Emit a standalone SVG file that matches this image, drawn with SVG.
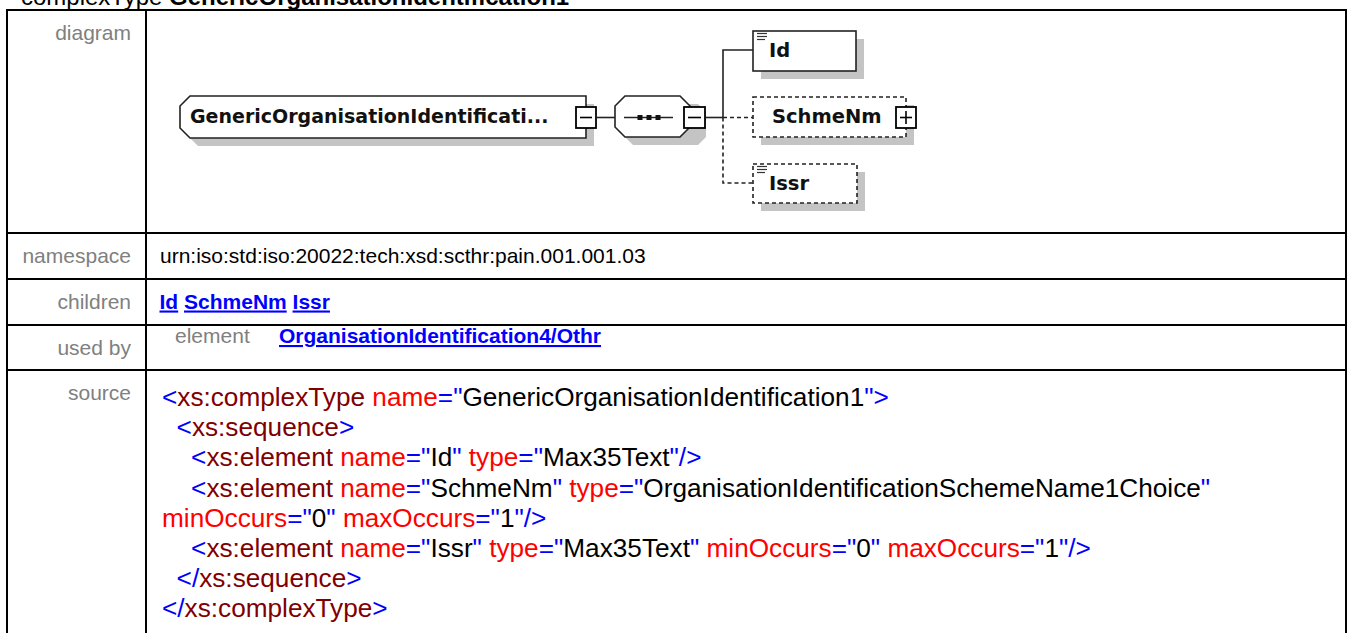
<svg xmlns="http://www.w3.org/2000/svg" width="1348" height="633" viewBox="0 0 1348 633">
<defs>
<style>
.lbl{font-family:"Liberation Sans",Arial,sans-serif;font-size:21px;fill:#808080;text-anchor:end}
.val{font-family:"Liberation Sans",Arial,sans-serif;font-size:21px;fill:#000}
.lnk{font-weight:bold;fill:#0000ff;text-decoration:underline}
.src{font-family:"Liberation Sans",Arial,sans-serif;font-size:26.2px;fill:#000}
.b{fill:#0000ff}.m{fill:#800000}.r{fill:#ff0000}
.grid{stroke:#000;stroke-width:2;fill:none}
.nt{font-family:"DejaVu Sans",Verdana,sans-serif;font-weight:bold;font-size:19.5px;fill:#111}
.box{fill:#fff;stroke:#222;stroke-width:1.6}
.dbox{fill:#fff;stroke:#222;stroke-width:1.6;stroke-dasharray:4 3}
.shd{fill:#c4c4c4}
.ln{stroke:#222;stroke-width:1.6;fill:none}
.dl{stroke:#222;stroke-width:1.6;fill:none;stroke-dasharray:4 3}
.ic{stroke:#333;stroke-width:1.2}
.pm{fill:#fff;stroke:#000;stroke-width:1.8}
.pl{stroke:#000;stroke-width:1.6}
</style>
</defs>
<rect x="0" y="0" width="1348" height="633" fill="#fff"/>
<text x="21" y="5" font-family="Liberation Sans, Arial, sans-serif" font-size="24" fill="#000">complexType <tspan font-weight="bold">GenericOrganisationIdentification1</tspan></text>

<g id="table">
<rect class="grid" x="7" y="10" width="1339" height="640"/>
<line class="grid" x1="146" y1="10" x2="146" y2="640"/>
<line class="grid" x1="7" y1="233" x2="1346" y2="233"/>
<line class="grid" x1="7" y1="279" x2="1346" y2="279"/>
<line class="grid" x1="7" y1="325" x2="1346" y2="325"/>
<line class="grid" x1="7" y1="370" x2="1346" y2="370"/>
<text class="lbl" x="131" y="40">diagram</text>
<text class="lbl" x="131" y="263">namespace</text>
<text class="lbl" x="131" y="308.5">children</text>
<text class="lbl" x="131" y="355">used by</text>
<text class="lbl" x="131" y="400">source</text>
<text class="val" x="160" y="263">urn:iso:std:iso:20022:tech:xsd:scthr:pain.001.001.03</text>
<text class="val" x="159.5" y="308.5"><tspan class="lnk">Id</tspan> <tspan class="lnk">SchmeNm</tspan> <tspan class="lnk">Issr</tspan></text>
<text class="val" x="175" y="343" style="fill:#808080">element</text>
<text class="val" x="279" y="343"><tspan class="lnk">OrganisationIdentification4/Othr</tspan></text>
</g>

<g id="connectors">
<path class="ln" d="M597 117.5 H615"/>
<path class="ln" d="M706 117.5 H723"/>
<path class="ln" d="M753 50 H723 V117.5"/>
<path class="dl" d="M723 117.5 H753"/>
<path class="dl" d="M723 117.5 V183 H753"/>
</g>

<g id="GenericOrganisationIdentification1">
<polygon class="shd" points="198,104 594,104 594,146 198,146 188,136 188,114"/>
<polygon class="box" points="190,96 586,96 586,138 190,138 180,128 180,106"/>
<text class="nt" x="190" y="123" style="font-size:19px">GenericOrganisationIdentificati...</text>
<rect class="pm" x="576" y="107" width="20" height="21"/>
<line class="pl" x1="580" y1="117.5" x2="592" y2="117.5"/>
</g>

<g id="sequence">
<polygon class="shd" points="633,104 698,104 706,112 706,137 698,145 633,145 623,135 623,114"/>
<polygon class="box" points="625,96 680,96 690,106 690,127 680,137 625,137 615,127 615,106"/>
<line class="ln" x1="624" y1="117.5" x2="673" y2="117.5"/>
<rect x="637.5" y="115" width="5" height="5" fill="#111"/>
<rect x="646.5" y="115" width="5" height="5" fill="#111"/>
<rect x="655.5" y="115" width="5" height="5" fill="#111"/>
<rect class="pm" x="684" y="107" width="21" height="21"/>
<line class="pl" x1="688" y1="117.5" x2="701" y2="117.5"/>
</g>

<g id="Id">
<rect class="shd" x="761" y="39" width="103" height="40"/>
<rect class="box" x="753" y="31" width="103" height="40"/>
<line class="ic" x1="757" y1="33.5" x2="767" y2="33.5"/>
<line class="ic" x1="757" y1="36.5" x2="767" y2="36.5"/>
<line class="ic" x1="757" y1="39.5" x2="765" y2="39.5"/>
<text class="nt" x="769" y="57">Id</text>
</g>

<g id="SchmeNm">
<rect class="shd" x="761" y="105" width="153" height="40"/>
<rect class="dbox" x="753" y="97" width="153" height="40"/>
<text class="nt" x="772" y="123">SchmeNm</text>
<rect class="pm" x="896" y="107" width="20" height="21"/>
<line class="pl" x1="900" y1="117.5" x2="912" y2="117.5"/>
<line class="pl" x1="906" y1="111" x2="906" y2="124"/>
</g>

<g id="Issr">
<rect class="shd" x="761" y="172" width="104" height="39"/>
<rect class="dbox" x="753" y="164" width="104" height="39"/>
<line class="ic" x1="757" y1="166.5" x2="767" y2="166.5"/>
<line class="ic" x1="757" y1="169.5" x2="767" y2="169.5"/>
<line class="ic" x1="757" y1="172.5" x2="765" y2="172.5"/>
<text class="nt" x="769" y="190">Issr</text>
</g>

<g id="source">
<text class="src" x="162" y="406"><tspan class="b">&lt;</tspan><tspan class="m">xs:complexType</tspan><tspan class="r"> name</tspan><tspan class="b">="</tspan>GenericOrganisationIdentification1<tspan class="b">"&gt;</tspan></text>
<text class="src" x="176.6" y="436"><tspan class="b">&lt;</tspan><tspan class="m">xs:sequence</tspan><tspan class="b">&gt;</tspan></text>
<text class="src" x="191.1" y="466"><tspan class="b">&lt;</tspan><tspan class="m">xs:element</tspan><tspan class="r"> name</tspan><tspan class="b">="</tspan>Id<tspan class="b">"</tspan><tspan class="r"> type</tspan><tspan class="b">="</tspan>Max35Text<tspan class="b">"/&gt;</tspan></text>
<text class="src" x="191.1" y="497"><tspan class="b">&lt;</tspan><tspan class="m">xs:element</tspan><tspan class="r"> name</tspan><tspan class="b">="</tspan>SchmeNm<tspan class="b">"</tspan><tspan class="r"> type</tspan><tspan class="b">="</tspan>OrganisationIdentificationSchemeName1Choice<tspan class="b">"</tspan></text>
<text class="src" x="162" y="527"><tspan class="r">minOccurs</tspan><tspan class="b">="</tspan>0<tspan class="b">"</tspan><tspan class="r"> maxOccurs</tspan><tspan class="b">="</tspan>1<tspan class="b">"/&gt;</tspan></text>
<text class="src" x="191.1" y="557"><tspan class="b">&lt;</tspan><tspan class="m">xs:element</tspan><tspan class="r"> name</tspan><tspan class="b">="</tspan>Issr<tspan class="b">"</tspan><tspan class="r"> type</tspan><tspan class="b">="</tspan>Max35Text<tspan class="b">"</tspan><tspan class="r"> minOccurs</tspan><tspan class="b">="</tspan>0<tspan class="b">"</tspan><tspan class="r"> maxOccurs</tspan><tspan class="b">="</tspan>1<tspan class="b">"/&gt;</tspan></text>
<text class="src" x="176.6" y="587"><tspan class="b">&lt;/</tspan><tspan class="m">xs:sequence</tspan><tspan class="b">&gt;</tspan></text>
<text class="src" x="162" y="617"><tspan class="b">&lt;/</tspan><tspan class="m">xs:complexType</tspan><tspan class="b">&gt;</tspan></text>
</g>
</svg>
